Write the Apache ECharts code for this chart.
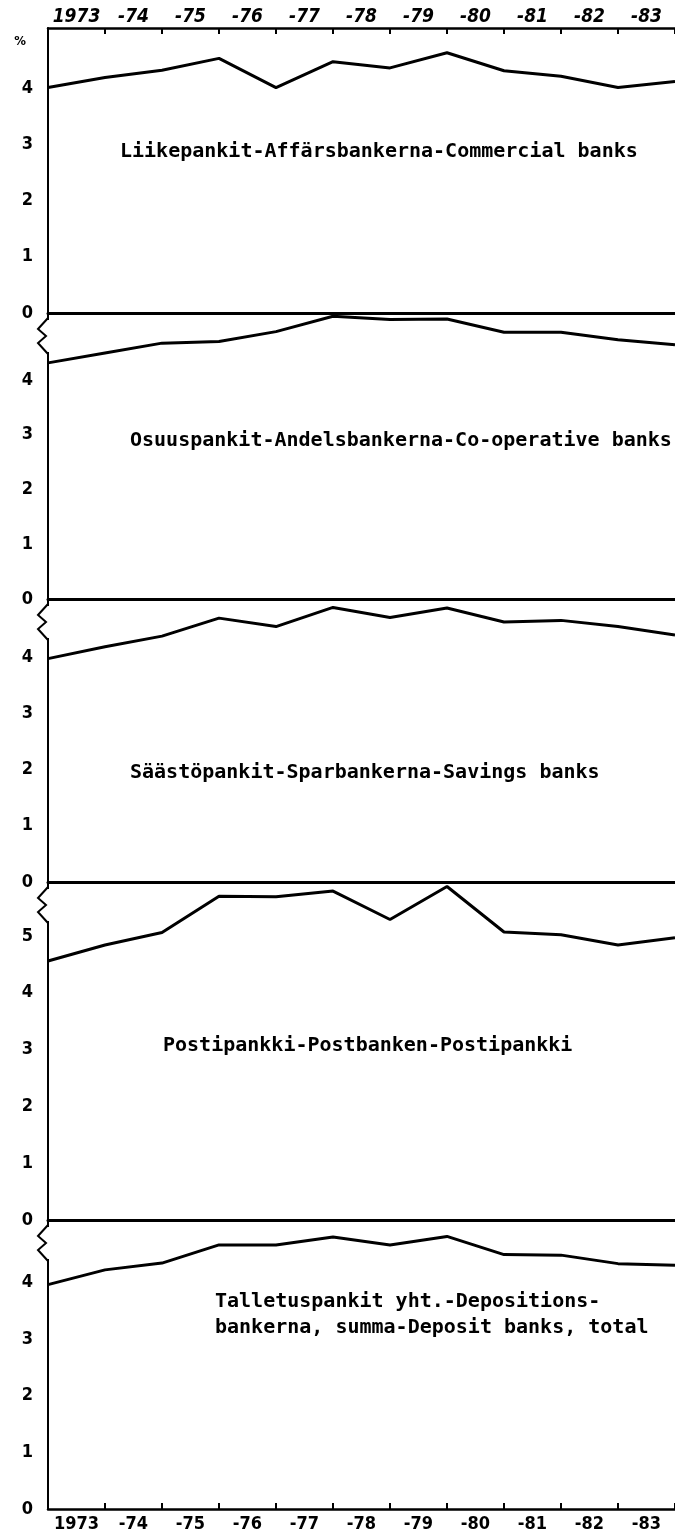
<!DOCTYPE html>
<html>
<head>
<meta charset="utf-8">
<script src="https://cdn.jsdelivr.net/npm/echarts@6/dist/echarts.min.js"></script>
<style>
  html, body { margin: 0; padding: 0; background: #fff; }
  #chart { width: 675px; height: 1537px; }
</style>
</head>
<body>
<div id="chart"></div>
<script>
// year labels sit between the ticks, values sit on the ticks (12 points)
const years = ['1973', '-74', '-75', '-76', '-77', '-78', '-79', '-80', '-81', '-82', '-83'];

const commercial  = [4.01, 4.19, 4.32, 4.53, 4.01, 4.47, 4.36, 4.63, 4.31, 4.21, 4.01, 4.12];
const cooperative = [4.31, 4.49, 4.67, 4.70, 4.88, 5.16, 5.10, 5.11, 4.87, 4.87, 4.73, 4.64];
const savings     = [3.97, 4.18, 4.37, 4.69, 4.54, 4.88, 4.70, 4.87, 4.62, 4.65, 4.54, 4.39];
const postbank    = [4.56, 4.84, 5.06, 5.70, 5.69, 5.79, 5.29, 5.87, 5.07, 5.02, 4.84, 4.97];
const total       = [3.96, 4.22, 4.34, 4.66, 4.66, 4.80, 4.66, 4.81, 4.49, 4.48, 4.33, 4.30];

const panelData = [commercial, cooperative, savings, postbank, total];
const panelTitles = [
  ['Liikepankit-Affärsbankerna-Commercial banks'],
  ['Osuuspankit-Andelsbankerna-Co-operative banks'],
  ['Säästöpankit-Sparbankerna-Savings banks'],
  ['Postipankki-Postbanken-Postipankki'],
  ['Talletuspankit yht.-Depositions-', 'bankerna, summa-Deposit banks, total']
];
const yMax = [5.07, 5.22, 5.03, 5.95, 5.1];
const yLabelTop = [4, 4, 4, 5, 4];

// layout (pixels)
const panelTop = [28, 313, 599, 882, 1220];
const panelBottom = [313, 599, 882, 1220, 1509];
const titlePos = [[120, 152], [130, 441], [130, 773], [163, 1046], [215, 1302]];
const axisX = 48;

const labelFont = '"DejaVu Sans Condensed", "DejaVu Sans", sans-serif';
const monoFont = '"DejaVu Sans Mono", monospace';

const chart = echarts.init(document.getElementById('chart'));

const grid = panelTop.map((top, i) => ({
  left: axisX, right: 0, top, height: panelBottom[i] - top, containLabel: false
}));

const xAxis = panelTop.map((_, i) => ({
  type: 'value', gridIndex: i, min: 0, max: 11,
  show: i < 4, position: 'bottom',
  axisLine: { show: true, onZero: false, lineStyle: { color: '#000', width: 3 } },
  axisTick: { show: false }, axisLabel: { show: false }, splitLine: { show: false }
}));

const catAxis = (gridIndex, position, fontSize, margin, fontStyle) => ({
  type: 'category', gridIndex, position, data: years, boundaryGap: true,
  axisLine: { show: true, onZero: false, lineStyle: { color: '#000', width: 2.5 } },
  axisTick: { show: true, inside: true, length: 6, interval: 0, lineStyle: { color: '#000', width: 2 } },
  axisLabel: {
    interval: 0, margin, color: '#000', fontSize, fontStyle, fontWeight: 'bold', fontFamily: labelFont
  },
  splitLine: { show: false }
});
xAxis.push(catAxis(0, 'top', 19, 1, 'italic'));
xAxis.push(catAxis(4, 'bottom', 18, 6, 'normal'));

const yAxis = panelTop.map((_, i) => ({
  type: 'value', gridIndex: i, min: 0, max: yMax[i], interval: 1,
  axisLine: { show: true, onZero: false, lineStyle: { color: '#000', width: 2 } },
  axisTick: { show: false }, splitLine: { show: false },
  axisLabel: {
    margin: 15, color: '#000', fontSize: 18, fontWeight: 'bold', fontFamily: labelFont,
    showMaxLabel: false,
    formatter: (v) => (v <= yLabelTop[i] ? String(v) : '')
  }
}));

const series = panelData.map((vals, i) => ({
  type: 'line', xAxisIndex: i, yAxisIndex: i, symbol: 'none', silent: true,
  lineStyle: { color: '#000', width: 3 },
  data: vals.map((v, k) => [k, v])
}));

const graphic = [];
graphic.push({
  type: 'text', x: 20, y: 42, z: 100,
  style: { text: '%', fill: '#000', font: 'bold 13px ' + labelFont, align: 'center', verticalAlign: 'middle' }
});
panelTitles.forEach((lines, i) => {
  lines.forEach((t, k) => {
    graphic.push({
      type: 'text', x: titlePos[i][0], y: titlePos[i][1] + k * 26, z: 100,
      style: { text: t, fill: '#000', font: 'bold 20px ' + monoFont, align: 'left', verticalAlign: 'middle' }
    });
  });
});
// axis breaks below each zero line
for (let i = 1; i < 5; i++) {
  const t = panelTop[i];
  graphic.push({
    type: 'rect', z: 99, shape: { x: axisX - 2, y: t + 7, width: 5, height: 32 }, style: { fill: '#fff' }
  });
  graphic.push({
    type: 'polyline', z: 100,
    shape: { points: [[axisX, t + 5], [axisX - 10, t + 16], [axisX - 2, t + 23], [axisX - 10, t + 30], [axisX, t + 41]] },
    style: { stroke: '#000', lineWidth: 2, fill: null }
  });
}

chart.setOption({
  animation: false,
  backgroundColor: '#fff',
  grid, xAxis, yAxis, series, graphic
});
</script>
</body>
</html>
